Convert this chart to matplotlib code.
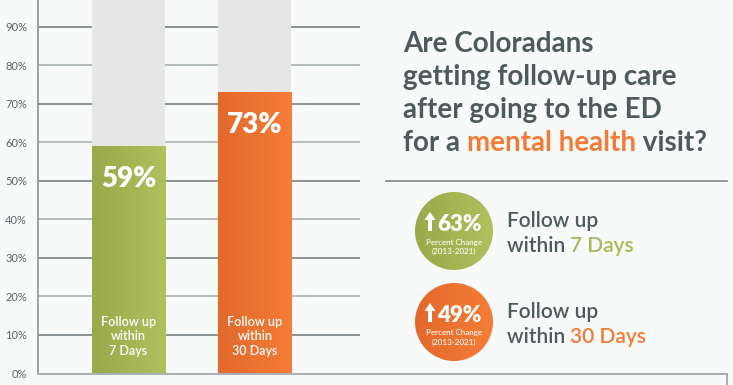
import matplotlib
matplotlib.use("Agg")
import matplotlib.pyplot as plt
import numpy as np
from matplotlib.patches import Circle, Polygon
from matplotlib.colors import LinearSegmentedColormap
from matplotlib.lines import Line2D

plt.rcParams['font.family'] = ['Lato', 'DejaVu Sans']

# ---- data ----
bar_labels = ["Follow up\nwithin\n7 Days", "Follow up\nwithin\n30 Days"]
values = [59, 73]
pct_change = [63, 49]
period = "(2013-2021)"
yticks = [0, 10, 20, 30, 40, 50, 60, 70, 80, 90]
legend_days = ["7 Days", "30 Days"]
title_lines = ["Are Coloradans", "getting follow-up care", "after going to the ED"]

# ---- style ----
W, H = 733, 385
BG = "#f8f9f9"
GRAY_TXT = "#4f5a5d"
GREEN_L, GREEN_R = "#9aa949", "#b0c05d"
ORANGE_L, ORANGE_R = "#e2692b", "#f57d37"
GREEN_TXT = "#a8b856"
ORANGE_TXT = "#f47a35"
colors = [(GREEN_L, GREEN_R), (ORANGE_L, ORANGE_R)]

fig = plt.figure(figsize=(W / 100, H / 100), dpi=100, facecolor=BG)

# main chart axes (pixel placement)
ax_left, ax_right, ax_top, ax_bot = 38, 360, 0, 373
ax = fig.add_axes([ax_left / W, (H - ax_bot) / H, (ax_right - ax_left) / W, (ax_bot - ax_top) / H])
ax.set_facecolor(BG)
x = np.arange(len(values))
width = 0.577

grid_cols = ["#a3abae", "#6d777b"]
for i, t in enumerate(yticks[1:]):
    ax.axhline(t, color=grid_cols[(i + 1) % 2], lw=1.1, zorder=1)

# background full bars
ax.bar(x, [100] * len(values), width=width, color="#e6e6e6", zorder=2)
bars = ax.bar(x, values, width=width, color="none", zorder=3)
for b, (cl, cr), v, lab in zip(bars, colors, values, bar_labels):
    cmap = LinearSegmentedColormap.from_list("g", [cl, cr])
    x0, x1 = b.get_x(), b.get_x() + b.get_width()
    grad = np.linspace(0, 1, 100).reshape(1, -1)
    ax.imshow(grad, cmap=cmap, extent=[x0, x1, 0, v], aspect="auto", zorder=3)
    cx = x0 + b.get_width() / 2
    ax.text(cx, v - 8.6, f"{v}%", ha="center", va="center", color="white",
            fontsize=20, fontweight="heavy", zorder=5)
    ax.text(cx, 9.5, lab, ha="center", va="center", color="white",
            fontsize=9, fontweight="semibold", linespacing=1.25, zorder=5)
ax.set_xlim(-0.715, 1.83)
ax.set_ylim(0, 97)

ax.set_yticks(yticks)
ax.set_yticklabels([f"{t}%" for t in yticks], fontsize=8, color="#5a6468")
ax.tick_params(axis="y", length=0, pad=8)
ax.set_xticks([])
for s in ["top", "right", "bottom"]:
    ax.spines[s].set_visible(False)
ax.spines["left"].set_color("#8c9598")
ax.spines["left"].set_linewidth(1.2)

# overlay axes in pixel coordinates for right panel
ov = fig.add_axes([0, 0, 1, 1], facecolor="none")
ov.set_xlim(0, W)
ov.set_ylim(H, 0)
ov.axis("off")

# bottom line and box
ov.add_line(Line2D([38, 727], [374, 374], color="#9aa2a5", lw=1.2))
ov.add_line(Line2D([727, 727], [374, 385], color="#9aa2a5", lw=1.2))
# separator
ov.add_line(Line2D([386, 727], [181, 181], color="#7f898c", lw=1.2))

# title
tx = 403
baselines = [52, 85, 118, 151]
for line, yb in zip(title_lines, baselines):
    ov.text(tx, yb, line, color=GRAY_TXT, fontsize=20, fontweight="bold", va="baseline", ha="left")

renderer = fig.canvas.get_renderer()

def pieces(xs, yb, parts, fontsize, weight):
    xcur = xs
    for s, c in parts:
        t = ov.text(xcur, yb, s, color=c, fontsize=fontsize, fontweight=weight, va="baseline", ha="left")
        bb = t.get_window_extent(renderer=renderer)
        xcur += bb.width
    return xcur

pieces(tx, baselines[3], [("for a ", GRAY_TXT), ("mental health", ORANGE_TXT), (" visit?", GRAY_TXT)], 20, "bold")

# circles
centers = [(454, 231), (454, 322)]
txt_colors = [GREEN_TXT, ORANGE_TXT]
for (cx, cy), (cl, cr), pc, days, tc in zip(centers, colors, pct_change, legend_days, txt_colors):
    r = 39
    circ = Circle((cx, cy), r, facecolor="none", edgecolor="none")
    ov.add_patch(circ)
    cmap = LinearSegmentedColormap.from_list("g", [cl, cr])
    gx = np.linspace(0, 1, 100)
    grad = np.tile(gx, (100, 1))
    im = ov.imshow(grad, cmap=cmap, extent=[cx - r, cx + r, cy + r, cy - r], zorder=2)
    im.set_clip_path(circ)
    # arrow
    ax0 = cx - 24
    top, bot = cy - 19, cy
    hw, sw, hh = 5.5, 2.0, 8
    arrow = Polygon([[ax0, top], [ax0 + hw, top + hh], [ax0 + sw, top + hh], [ax0 + sw, bot],
                     [ax0 - sw, bot], [ax0 - sw, top + hh], [ax0 - hw, top + hh]],
                    closed=True, facecolor="white", edgecolor="none", zorder=3)
    ov.add_patch(arrow)
    ov.text(cx - 17, cy, f"{pc}%", color="white", fontsize=16, fontweight="heavy",
            ha="left", va="baseline", zorder=4)
    ov.text(cx, cy + 11, "Percent Change", color="white", fontsize=5.8, fontweight="medium",
            ha="center", va="center", zorder=4)
    ov.text(cx, cy + 20, period, color="white", fontsize=5.8, fontweight="medium",
            ha="center", va="center", zorder=4)
    # legend text
    ov.text(507, cy - 4, "Follow up", color=GRAY_TXT, fontsize=15, fontweight="semibold", ha="left", va="baseline")
    pieces(507, cy + 21, [("within ", GRAY_TXT), (days, tc)], 15, "semibold")

fig.savefig("out.png", dpi=100, facecolor=BG)
